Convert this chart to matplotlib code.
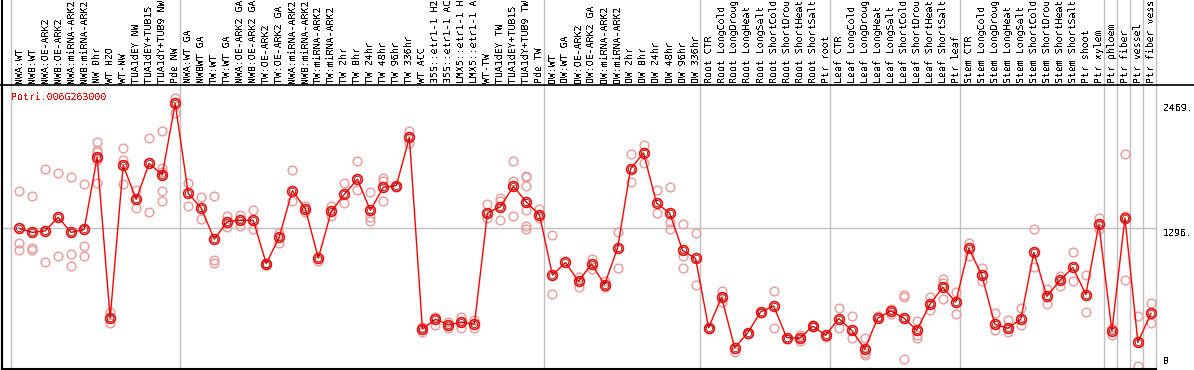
import matplotlib
matplotlib.use('Agg')
import matplotlib.pyplot as plt
from matplotlib.lines import Line2D

plt.rcParams['font.family'] = ['DejaVu Sans Mono']
plt.rcParams['text.antialiased'] = False
plt.rcParams['text.hinting'] = 'none'

gene = 'Potri.006G263000'

samples = [
    'NWA:WT', 'NWB:WT', 'NWA:OE-ARK2', 'NWB:OE-ARK2', 'NWA:miRNA-ARK2',
    'NWB:miRNA-ARK2', 'NW 0hr', 'WT H2O', 'WT-NW', 'TUA1dEY NW',
    'TUA1dEY+TUB15 NW', 'TUA1dY+TUB9 NW', 'Pde NW',
    'NWA:WT GA', 'NWBWT GA', 'TW:WT', 'TW:WT GA', 'NWA:OE-ARK2 GA',
    'NWB:OE-ARK2 GA', 'TW:OE-ARK2', 'TW:OE-ARK2 GA', 'NWA:miRNA-ARK2',
    'NWB:miRNA-ARK2', 'TW:miRNA-ARK2', 'TW:miRNA-ARK2', 'TW 2hr', 'TW 8hr',
    'TW 24hr', 'TW 48hr', 'TW 96hr', 'TW 336hr', 'WT ACC',
    '35S::etr1-1 H2O', '35S::etr1-1 ACC', 'LMX5::etr1-1 H2O',
    'LMX5::etr1-1 ACC', 'WT-TW', 'TUA1dEY TW', 'TUA1dEY+TUB15 TW',
    'TUA1dY+TUB9 TW', 'Pde TW',
    'OW:WT', 'OW:WT GA', 'OW:OE-ARK2', 'OW:OE-ARK2 GA', 'OW:miRNA-ARK2',
    'OW:miRNA-ARK2', 'OW 2hr', 'OW 8hr', 'OW 24hr', 'OW 48hr', 'OW 96hr',
    'OW 336hr',
    'Root CTR', 'Root LongCold', 'Root LongDrought', 'Root LongHeat',
    'Root LongSalt', 'Root ShortCold', 'Root ShortDrought', 'Root ShortHeat',
    'Root ShortSalt', 'Ptr root',
    'Leaf CTR', 'Leaf LongCold', 'Leaf LongDrought', 'Leaf LongHeat',
    'Leaf LongSalt', 'Leaf ShortCold', 'Leaf ShortDrought', 'Leaf ShortHeat',
    'Leaf ShortSalt', 'Ptr leaf',
    'Stem CTR', 'Stem LongCold', 'Stem LongDrought', 'Stem LongHeat',
    'Stem LongSalt', 'Stem ShortCold', 'Stem ShortDrought', 'Stem ShortHeat',
    'Stem ShortSalt', 'Ptr shoot', 'Ptr xylem',
    'Ptr phloem', 'Ptr fiber', 'Ptr vessel', 'Ptr fiber vessel',
]

# index of first sample in each group
group_starts = [0, 13, 41, 53, 63, 73, 84, 85, 86, 87, 88]

means = [
    1296, 1258, 1271, 1399, 1258, 1286, 1962, 453, 1887, 1568, 1905, 1796, 2469,
    1624, 1486, 1193, 1359, 1371, 1371, 964, 1215, 1650, 1480, 1016, 1456, 1615,
    1756, 1465, 1681, 1697, 2150, 351, 443, 390, 414, 396, 1440, 1499, 1690,
    1541, 1422,
    856, 976, 797, 962, 768, 1108, 1853, 2003, 1531, 1440, 1089, 1013,
    364, 649, 175, 313, 512, 567, 270, 263, 378, 292,
    449, 339, 162, 453, 521, 455, 339, 581, 742, 604,
    1108, 856, 396, 358, 443, 1070, 657, 807, 929, 674, 1333,
    333, 1394, 226, 498,
]

reps = [
    [1646, 1158, 1090], [1596, 1114, 1089], [1853, 977], [1812, 1040],
    [1775, 1052, 939], [1708, 1127, 1033], [2103, 2031, 2016, 1937, 1718],
    [515, 406], [2047, 1937, 1711], [1659, 1484], [2140, 1447],
    [2209, 1859, 1828, 1643, 1550], [2519, 2375],
    [1721, 1502], [1586, 1381], [1597, 1000, 970], [1414, 1311], [1419, 1322],
    [1465, 1287], [975, 952], [1249, 1155], [1840, 1553], [1503, 1450], [985],
    [1502, 1410], [1718, 1531], [1927, 1655], [1638, 1404, 1365],
    [1765, 1743, 1553], [1680], [2206, 2099], [326, 366], [468, 387],
    [414, 361], [460, 358], [431, 361], [1521, 1390], [1581, 1556, 1375],
    [1927, 1743, 1410], [1790, 1774, 1692, 1465, 1322, 1285], [1474, 1390],
    [1230, 682], [], [841, 747], [1011, 911], [801, 741], [1258, 924],
    [1989, 1726], [2078, 1905], [1659, 1438], [1681, 1355, 1287],
    [1332, 1033, 927], [1249, 768],
    [350], [709, 609], [138], [300], [500], [709, 361], [255], [292, 240],
    [390, 366], [280],
    [549, 361], [477, 270], [270, 123, 104], [477], [541, 488], [670, 649, 67],
    [429, 295, 270], [649, 529], [817, 786, 630], [696, 488],
    [1161, 1036], [921, 804], [498, 341], [440, 326], [545, 385], [1287, 937],
    [724, 581], [848, 754], [1071, 804], [855, 510], [1390, 1287],
    [358, 295], [1989, 815, 1410], [469, 0], [592, 404],
]

max_label = 2469
mid_label = 1296

W, H = 1194, 370
fig = plt.figure(figsize=(W / 100, H / 100), dpi=100)
ax = fig.add_axes([1.5 / W, 1 / H, (1156 - 1.5) / W, (369 - 85) / H])

x = list(range(len(samples)))
ax.set_xlim(-1.353, 87.39)
ax.set_ylim(-24.4, 2641)

hdr = 1 + 85 / 284
for k in group_starts:
    ax.axvline(k - 0.645, ymin=0, ymax=hdr, color='#c0c0c0', lw=1, clip_on=False, zorder=1)
ax.axvline(-1.353, ymin=0, ymax=hdr, color='black', lw=1.5, clip_on=False, zorder=3)
ax.axhline(mid_label, color='#c0c0c0', lw=1, zorder=1)
fig.add_artist(Line2D([0, 1], [1 - 85 / H, 1 - 85 / H], transform=fig.transFigure,
                      color='black', lw=1.2))

rx, ry = [], []
for i, vals in enumerate(reps):
    for v in vals:
        rx.append(i)
        ry.append(v)
ax.plot(rx, ry, 'o', ms=6.3, mfc='none', mec='#eb9a9a', mew=1.0, zorder=2)

ax.plot(x, means, '-', color='red', lw=1.0, zorder=4)
ax.plot(x, means, 'o', ms=7.0, mfc='none', mec='red', mew=1.2, zorder=5)
ax.plot(x, means, 'o', ms=4.6, mfc='none', mec='#600000', mew=0.5, zorder=6)

ax.text(10 / (1156 - 1.5), 1 - 7.5 / 284, gene, transform=ax.transAxes, color='red',
        fontsize=7.1, ha='left', va='top')

ax.xaxis.tick_top()
ax.set_xticks(x)
ax.set_xticklabels(samples, rotation=90, fontsize=7.1)
ax.tick_params(axis='x', length=0, pad=1.5)

ax.yaxis.tick_right()
ax.set_yticks([max_label, mid_label, 0])
ax.set_yticklabels([f'{max_label}.', f'{mid_label}.', '0'], fontsize=7.1)
ax.tick_params(axis='y', length=0, pad=5)
ylabs = ax.get_yticklabels()
ylabs[0].set_va('top')
ylabs[1].set_va('top')
ylabs[2].set_va('bottom')

for s in ['top', 'right']:
    ax.spines[s].set_visible(False)
ax.spines['left'].set_linewidth(1.5)
ax.spines['bottom'].set_linewidth(1.5)

fig.savefig('out.png', dpi=100)
